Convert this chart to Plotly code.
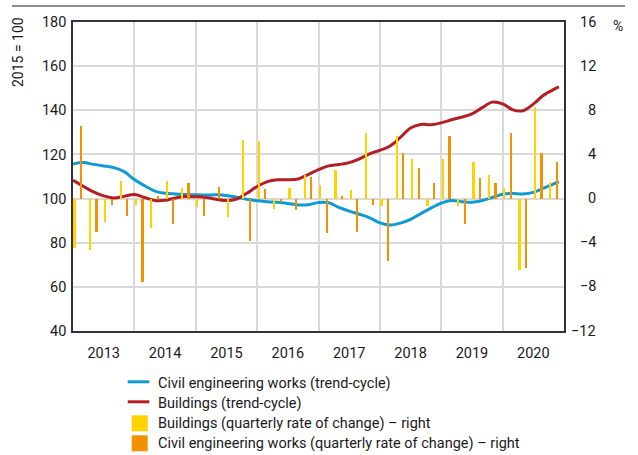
import plotly.graph_objects as go

# ---------------- data ----------------
years = [2013, 2014, 2015, 2016, 2017, 2018, 2019, 2020]

# trend-cycle indices (2015 = 100), every second month from Jan 2013, plus last month
line_months = list(range(0, 96, 2)) + [95]
civil_trend = [115.7, 116.3, 115.5, 114.8, 114.0, 112.2, 108.6, 105.8, 103.4, 102.4,
               102.1, 101.9, 101.7, 101.6, 101.7, 101.4, 100.6, 99.7, 99.0, 98.6,
               98.3, 97.8, 97.1, 97.2, 98.2, 98.1, 96.0, 94.3, 92.9, 91.3,
               89.0, 88.0, 88.9, 90.6, 93.2, 95.7, 97.9, 99.1, 98.6, 98.3,
               99.1, 100.5, 102.0, 102.3, 102.1, 102.8, 104.7, 106.7, 107.6]
build_trend = [108.3, 105.6, 103.0, 101.2, 100.3, 101.0, 101.8, 100.5, 99.1, 99.2,
               100.3, 100.9, 100.8, 100.5, 99.7, 99.1, 99.8, 102.4, 105.5, 107.7,
               108.5, 108.5, 108.9, 110.9, 113.1, 114.8, 115.4, 116.3, 118.0, 120.3,
               121.9, 123.8, 127.7, 132.0, 133.6, 133.5, 134.3, 135.7, 136.9, 138.4,
               141.2, 143.7, 142.9, 140.2, 139.8, 142.8, 146.8, 149.5, 150.6]

# quarterly rates of change (%), 2013 Q1 .. 2020 Q4
build_qoq = [-4.46, -4.7, -2.1, 1.6, -0.6, -2.65, 1.55, 1.0, -0.8, 0.0,
             -1.7, 5.35, 5.25, -0.9, 1.0, 2.1, 1.25, 2.6, 0.8, 5.9,
             -0.7, 5.65, 3.6, -0.7, 3.6, -0.7, 3.35, 2.1, 0.95, -6.5,
             8.3, 1.5]
civil_qoq = [6.6, -3.0, -0.6, -1.6, -7.6, 0.2, -2.3, 1.4, -1.6, 1.05,
             0.0, -3.8, 0.9, -0.3, -1.0, 1.95, -3.15, 0.2, -3.0, -0.55,
             -5.7, 4.1, 2.75, 1.45, 5.7, -2.3, 1.9, 1.4, 5.9, -6.3,
             4.1, 3.3]

left_ticks = [40, 60, 80, 100, 120, 140, 160, 180]
right_ticks = [-12, -8, -4, 0, 4, 8, 12, 16]

series_names = ["Civil engineering works (trend-cycle)",
                "Buildings (trend-cycle)",
                "Buildings (quarterly rate of change) – right",
                "Civil engineering works (quarterly rate of change) – right"]

# ---------------- styling ----------------
FONT = "Roboto, Liberation Sans, sans-serif"
BLUE = "#0E9AD7"
RED = "#B51F24"
YELLOW = "#FFD200"
ORANGE = "#F39200"
GRID = "#D9D9D9"
FRAME = "#333333"
TXT = "#1a1a1a"

t_line = [2013 + m / 12 for m in line_months]
t_q = [2013 + q / 4 for q in range(len(build_qoq))]

fig = go.Figure()

fig.add_trace(go.Bar(
    x=[t + 0.026 for t in t_q], y=build_qoq, width=0.036, yaxis="y2",
    marker=dict(color=YELLOW, line=dict(width=0)), name=series_names[2]))
fig.add_trace(go.Bar(
    x=[t + 0.133 for t in t_q], y=civil_qoq, width=0.036, yaxis="y2",
    marker=dict(color=ORANGE, line=dict(width=0)), name=series_names[3]))
fig.add_trace(go.Scatter(
    x=t_line, y=civil_trend, mode="lines", line=dict(color=BLUE, width=3, shape="spline"),
    name=series_names[0]))
fig.add_trace(go.Scatter(
    x=t_line, y=build_trend, mode="lines", line=dict(color=RED, width=3, shape="spline"),
    name=series_names[1]))

# ---------------- manual legend (exact spacing) ----------------
def px_x(p):
    return (p - 73) / 491.0

def px_y(p):
    return (331 - p) / 309.0

shapes = [dict(type="line", xref="paper", yref="paper", x0=px_x(12), x1=px_x(625),
               y0=px_y(6), y1=px_y(6), line=dict(color=TXT, width=1))]
annotations = []
legend_rows = [383.3, 403.3, 423.3, 443.3]
legend_colors = [BLUE, RED, YELLOW, ORANGE]
for i, (name, col, yc) in enumerate(zip(series_names, legend_colors, legend_rows)):
    if i < 2:
        shapes.append(dict(type="line", xref="paper", yref="paper",
                           x0=px_x(127.7), x1=px_x(149.3), y0=px_y(yc - 1.5), y1=px_y(yc - 1.5),
                           line=dict(color=col, width=3)))
    else:
        shapes.append(dict(type="rect", xref="paper", yref="paper",
                           x0=px_x(131.7), x1=px_x(147.7), y0=px_y(yc + 8), y1=px_y(yc - 8),
                           fillcolor=col, line=dict(width=0)))
    annotations.append(dict(text=name, xref="paper", yref="paper", x=px_x(155.5), y=px_y(yc),
                            xanchor="left", yanchor="middle", showarrow=False,
                            font=dict(size=14.5, color=TXT)))

# right-axis tick labels, right-aligned like the reference
for v in right_ticks:
    annotations.append(dict(text=("\u2212" + str(-v)) if v < 0 else str(v),
                            xref="paper", yref="y2", x=px_x(598), y=v,
                            xanchor="right", yanchor="middle", showarrow=False,
                            font=dict(size=14.5, color=TXT)))

annotations += [
    dict(text="2015 = 100", xref="paper", yref="paper", x=px_x(18), y=px_y(52),
         textangle=-90, showarrow=False, font=dict(size=14, color=TXT),
         xanchor="center", yanchor="middle"),
    dict(text="%", xref="paper", yref="paper", x=px_x(618), y=px_y(26),
         showarrow=False, font=dict(size=14, color=TXT), xanchor="center", yanchor="middle"),
]

fig.update_layout(
    width=638, height=455,
    margin=dict(l=73, r=74, t=22, b=124, autoexpand=False),
    paper_bgcolor="white", plot_bgcolor="white",
    font=dict(family=FONT, size=14, color=TXT),
    barmode="overlay",
    bargap=0,
    showlegend=False,
    xaxis=dict(range=[2013, 2021], tickmode="array",
               tickvals=[y + 0.5 for y in years], ticktext=[str(y) for y in years],
               showgrid=False, zeroline=False, ticks="", ticklabelstandoff=8,
               tickfont=dict(size=14.5),
               showline=True, linecolor=FRAME, linewidth=1.5, mirror=True,
               minor=dict(tickvals=years[1:], showgrid=True, gridcolor=GRID, gridwidth=1.5, ticks="")),
    yaxis=dict(range=[40, 180], tickmode="array", tickvals=left_ticks,
               showgrid=True, gridcolor=GRID, gridwidth=1.5, zeroline=False, ticks="",
               ticklabelstandoff=2, tickfont=dict(size=14.5),
               showline=True, linecolor=FRAME, linewidth=1.5, mirror=True),
    yaxis2=dict(range=[-12, 16], tickmode="array", tickvals=right_ticks,
                overlaying="y", side="right", showgrid=False, zeroline=False, ticks="",
                showticklabels=False, showline=False),
    shapes=shapes,
    annotations=annotations,
)

# remove the browser's default page margin so the figure sits at the window's top-left corner
fig.write_html("out.html", config={"displayModeBar": False},
               post_script="document.body.style.margin='0';")
